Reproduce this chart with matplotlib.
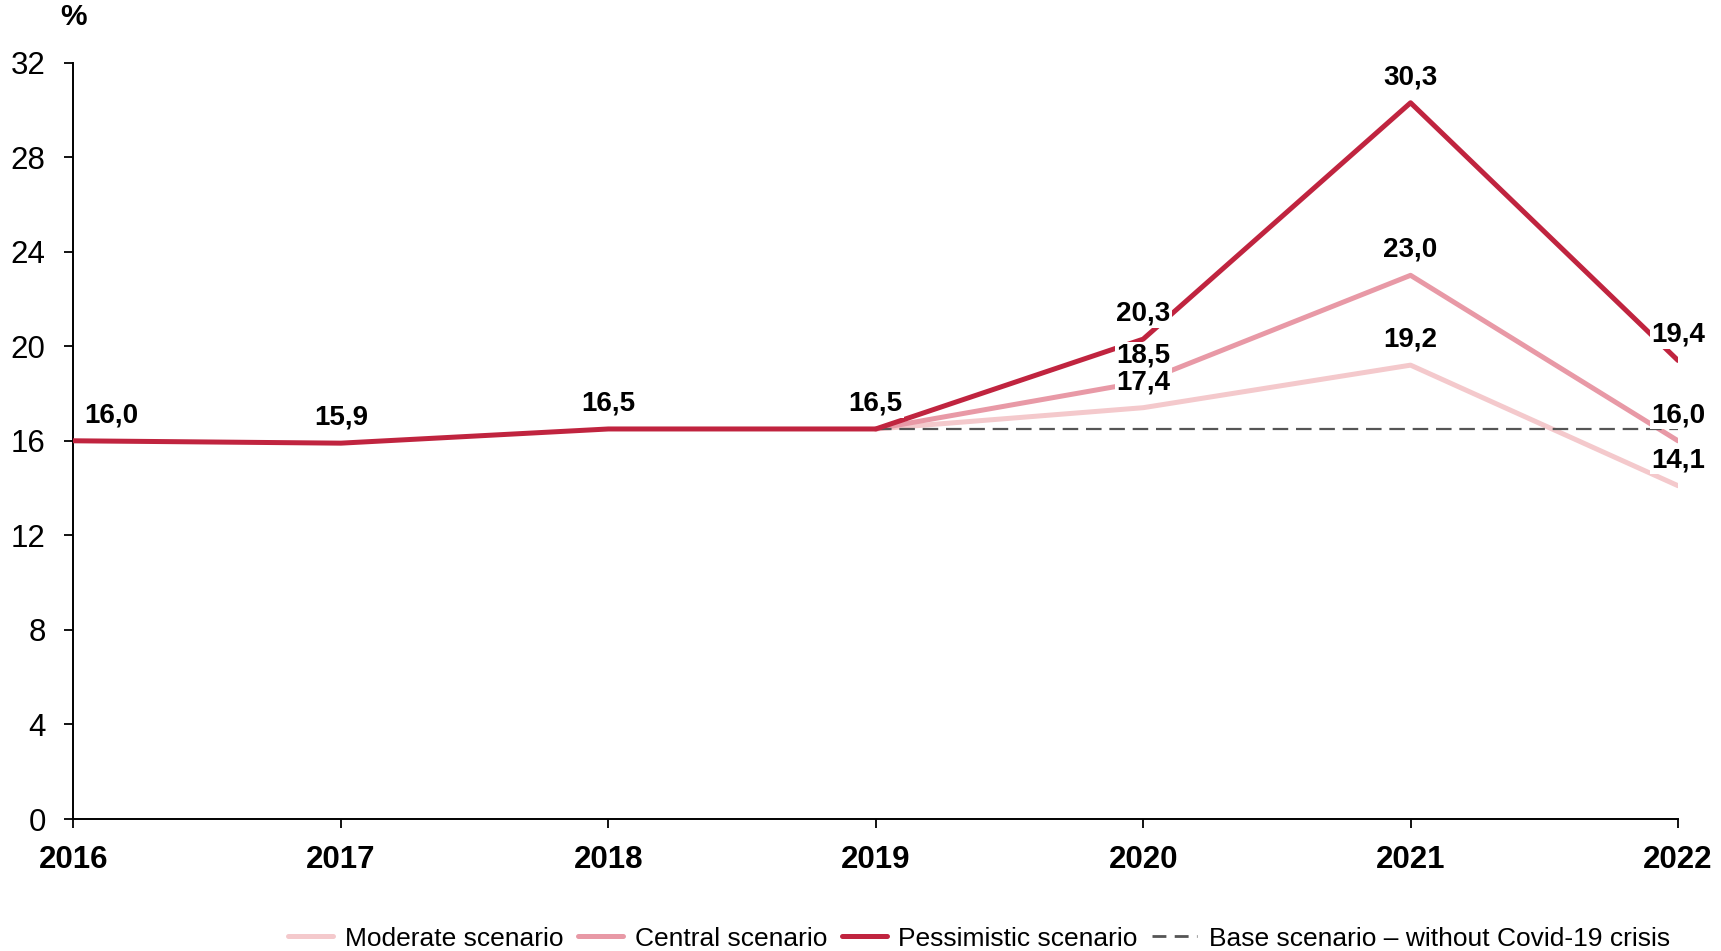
import matplotlib
matplotlib.use("Agg")
import matplotlib.pyplot as plt

plt.rcParams["font.family"] = ["Liberation Sans", "DejaVu Sans"]

years = [2016, 2017, 2018, 2019, 2020, 2021, 2022]
forecast_years = [2019, 2020, 2021, 2022]
pessimistic = [16.0, 15.9, 16.5, 16.5, 20.3, 30.3, 19.4]
central = [16.5, 18.5, 23.0, 16.0]
moderate = [16.5, 17.4, 19.2, 14.1]
base = [16.5, 16.5, 16.5, 16.5]
yticks = [0, 4, 8, 12, 16, 20, 24, 28, 32]

RED = "#c0243f"
PINK = "#e899a6"
LIGHT = "#f4c9cc"

fig = plt.figure(figsize=(17.21, 9.51), dpi=100)
ax = fig.add_axes([0.0427, 0.1388, 0.9323, 0.7954])

ax.plot(forecast_years, moderate, color=LIGHT, lw=3.6, label="Moderate scenario",
        solid_capstyle="round", zorder=2)
ax.plot(forecast_years, central, color=PINK, lw=3.6, label="Central scenario",
        solid_capstyle="round", zorder=3)
ax.plot(forecast_years, base, color="#555555", lw=1.6, dashes=(7, 3.5),
        label="Base scenario \u2013 without Covid-19 crisis", zorder=4)
ax.plot(years, pessimistic, color=RED, lw=3.6, label="Pessimistic scenario",
        solid_capstyle="round", zorder=5)


def label(x, y, dx=0):
    ax.annotate(f"{y:.1f}".replace(".", ","), (x, y), xytext=(dx, 18.5),
                textcoords="offset points", ha="center", va="center",
                fontsize=20, fontweight="bold", annotation_clip=False,
                bbox=dict(boxstyle="square,pad=0.05", fc="white", ec="none"),
                zorder=6)


for i, (x, y) in enumerate(zip(years, pessimistic)):
    label(x, y, dx=27 if i == 0 else 0)
for x, y in list(zip(forecast_years, central))[1:]:
    label(x, y)
for x, y in list(zip(forecast_years, moderate))[1:]:
    label(x, y)

ax.set_xlim(2016, 2022)
ax.set_ylim(0, 32)
ax.set_xticks(years)
ax.set_yticks(yticks)
ax.tick_params(axis="y", labelsize=22.5, length=6.5, width=1.3, pad=13.5)
ax.tick_params(axis="x", labelsize=22.5, length=6.5, width=1.3, pad=12)
for t in ax.get_xticklabels():
    t.set_fontweight("bold")
for s in ["top", "right"]:
    ax.spines[s].set_visible(False)
for s in ["left", "bottom"]:
    ax.spines[s].set_linewidth(1.4)

fig.text(0.0425, 0.982, "%", fontsize=21.5, fontweight="bold", ha="center", va="center")

handles, labels = ax.get_legend_handles_labels()
order = [0, 1, 3, 2]
leg = fig.legend([handles[i] for i in order], [labels[i] for i in order],
                 loc="center", bbox_to_anchor=(0.569, 0.013), ncol=4, frameon=False,
                 fontsize=19, handlelength=1.7, handletextpad=0.45, columnspacing=0.55,
                 borderaxespad=0)
# longer dashes in the legend key
leg.get_lines()[3].set_dashes((5, 3))
leg.get_lines()[3].set_linewidth(2.0)

fig.savefig("out.png", dpi=100)
